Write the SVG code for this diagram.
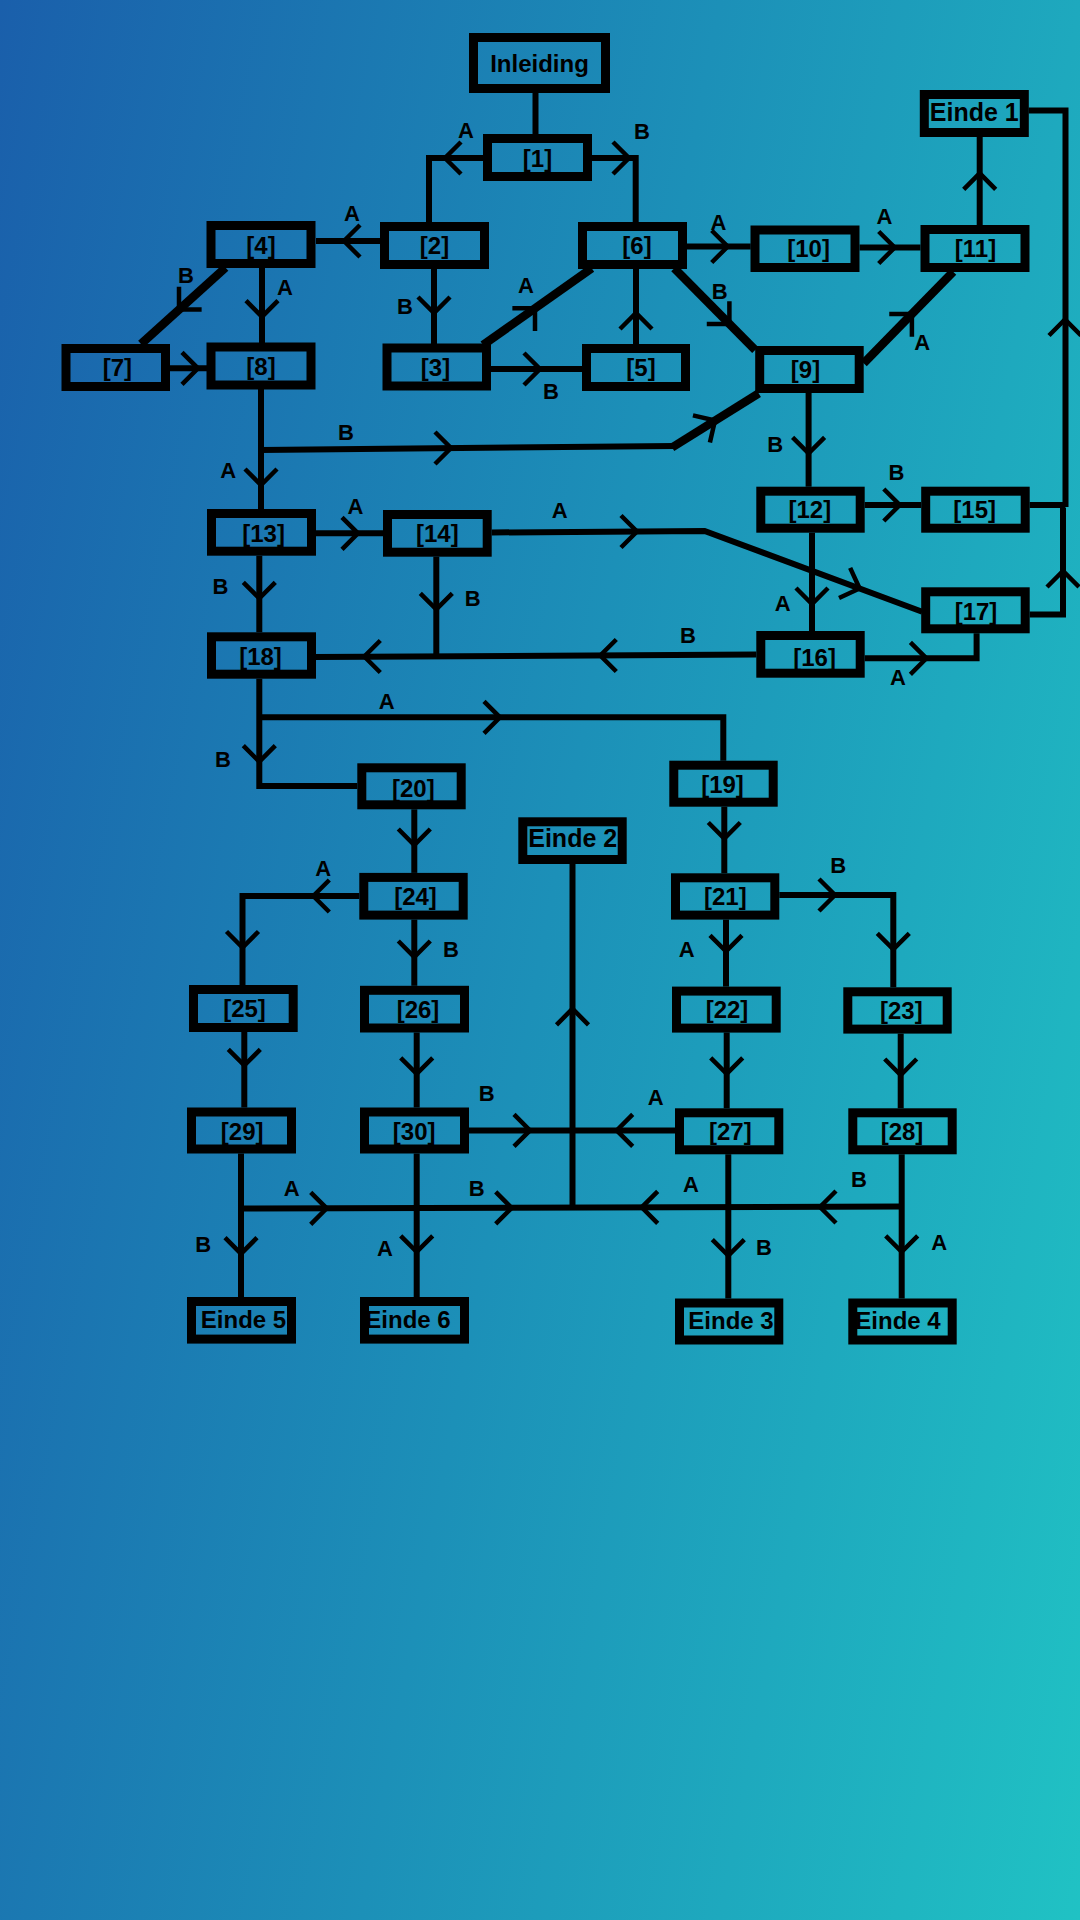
<svg xmlns="http://www.w3.org/2000/svg" xmlns:xlink="http://www.w3.org/1999/xlink" width="1080" height="1920" viewBox="0 0 1080 1920">
<defs>
<linearGradient id="bg" gradientUnits="userSpaceOnUse" x1="0" y1="0" x2="1392" y2="261">
<stop offset="0" stop-color="#1a5fab"/>
<stop offset="0.5" stop-color="#1c90b8"/>
<stop offset="1" stop-color="#20c2c4"/>
</linearGradient>
<path id="chv" d="M-16,-16 L0,0 L-16,16"/>
<style>
.box{fill:none;stroke:#000;stroke-width:9}
.nt{font-family:"Liberation Sans",Arial,sans-serif;font-weight:bold;font-size:24px;text-anchor:middle;fill:#000}
.ne{font-size:25px}
.ln{fill:none;stroke:#000;stroke-width:6;stroke-linejoin:miter}
.dg{stroke-width:8.5}
.ch{fill:none;stroke:#000;stroke-width:4.5}
.ab{font-family:"Liberation Sans",Arial,sans-serif;font-weight:bold;font-size:22px;text-anchor:middle;fill:#000}
</style>
</defs>
<rect x="0" y="0" width="1080" height="1920" fill="url(#bg)"/>

<g id="connectors">
<path class="ln" d="M535.5 93 V134"/>
<path class="ln" d="M483 158 H429 V222"/>
<path class="ln" d="M592 158 H635.7 V222"/>
<path class="ln" d="M380 241 H316"/>
<path class="ln" d="M434 268 V344"/>
<path class="ln" d="M262 268 V343"/>
<path class="ln dg" d="M225.5 267.7 L141 344"/>
<path class="ln" d="M170 368.3 H207"/>
<path class="ln dg" d="M483 345 L591.7 268.3"/>
<path class="ln" d="M491 369 H582"/>
<path class="ln" d="M636 344 V268"/>
<path class="ln" d="M687 246.5 H750.7"/>
<path class="ln" d="M859.6 247.5 H920.5"/>
<path class="ln" d="M979.7 225 V136.7"/>
<path class="ln dg" d="M674.3 268.3 L755.2 350"/>
<path class="ln dg" d="M863.7 363.3 L953.2 271.7"/>
<path class="ln" d="M261 389 V509"/>
<path class="ln" d="M261 450 L674.5 446"/>
<path class="ln dg" d="M672 447.5 L758.7 393.3"/>
<path class="ln" d="M316 533.3 H383"/>
<path class="ln" d="M259.3 555.7 V632.3"/>
<path class="ln" d="M436.3 556.7 V655"/>
<path class="ln" d="M756.3 654.5 L316 657"/>
<path class="ln" d="M491.7 532.5 L704.6 531 L922.2 611.7"/>
<path class="ln" d="M808.6 392.7 V486.7"/>
<path class="ln" d="M864.7 505 H921.2"/>
<path class="ln" d="M812 532.7 V631"/>
<path class="ln" d="M864.7 658.3 H976.6 V633.3"/>
<path class="ln" d="M1028.6 110.4 H1065.5 V507 M1029.7 505 H1065.5"/>
<path class="ln" d="M1029.7 614.6 H1063 V508"/>
<path class="ln" d="M259.3 678.7 V786 H357.3"/>
<path class="ln" d="M259.3 717.3 H723.3 V760.7"/>
<path class="ln" d="M414.3 809.3 V872.9"/>
<path class="ln" d="M359.3 896 H242.5 V985"/>
<path class="ln" d="M414.3 919.6 V985.8"/>
<path class="ln" d="M244.3 1032 V1107.5"/>
<path class="ln" d="M416.7 1032.5 V1107.5"/>
<path class="ln" d="M469 1130.4 H675"/>
<path class="ln" d="M572.5 864 V1208"/>
<path class="ln" d="M241 1208.5 L901.7 1206.5"/>
<path class="ln" d="M241 1153.4 V1297"/>
<path class="ln" d="M416.7 1153.4 V1297"/>
<path class="ln" d="M724.3 806.7 V873.3"/>
<path class="ln" d="M726 919.6 V986.6"/>
<path class="ln" d="M779.3 895 H893.3 V987.3"/>
<path class="ln" d="M726.7 1032.5 V1108.3"/>
<path class="ln" d="M900.7 1033.6 V1108.3"/>
<path class="ln" d="M728.3 1154.2 V1298.5"/>
<path class="ln" d="M901.7 1154.2 V1298.5"/>

<use class="ch" xlink:href="#chv" transform="translate(445,158) rotate(180)"/>
<use class="ch" xlink:href="#chv" transform="translate(629,158)"/>
<use class="ch" xlink:href="#chv" transform="translate(344,241) rotate(180)"/>
<use class="ch" xlink:href="#chv" transform="translate(434,313) rotate(90)"/>
<use class="ch" xlink:href="#chv" transform="translate(262,316.7) rotate(90)"/>
<use class="ch" xlink:href="#chv" transform="translate(179,309.5) rotate(135)"/>
<use class="ch" xlink:href="#chv" transform="translate(198,368.3)"/>
<use class="ch" xlink:href="#chv" transform="translate(535,308.3) rotate(-45)"/>
<use class="ch" xlink:href="#chv" transform="translate(540,369)"/>
<use class="ch" xlink:href="#chv" transform="translate(636,313) rotate(-90)"/>
<use class="ch" xlink:href="#chv" transform="translate(727.7,246.5)"/>
<use class="ch" xlink:href="#chv" transform="translate(894.7,247.5)"/>
<use class="ch" xlink:href="#chv" transform="translate(979.7,173.3) rotate(-90)"/>
<use class="ch" xlink:href="#chv" transform="translate(729.4,323.9) rotate(45)"/>
<use class="ch" xlink:href="#chv" transform="translate(911.9,314) rotate(-45)"/>
<use class="ch" xlink:href="#chv" transform="translate(261,485) rotate(90)"/>
<use class="ch" xlink:href="#chv" transform="translate(451,448)"/>
<use class="ch" xlink:href="#chv" transform="translate(715,420.5) rotate(-32)"/>
<use class="ch" xlink:href="#chv" transform="translate(358,533.3)"/>
<use class="ch" xlink:href="#chv" transform="translate(259.3,598.3) rotate(90)"/>
<use class="ch" xlink:href="#chv" transform="translate(436.3,609.3) rotate(90)"/>
<use class="ch" xlink:href="#chv" transform="translate(364.3,656.5) rotate(180)"/>
<use class="ch" xlink:href="#chv" transform="translate(600.3,655.5) rotate(180)"/>
<use class="ch" xlink:href="#chv" transform="translate(637,531.5)"/>
<use class="ch" xlink:href="#chv" transform="translate(859.6,588.5) rotate(20.35)"/>
<use class="ch" xlink:href="#chv" transform="translate(808.6,453.3) rotate(90)"/>
<use class="ch" xlink:href="#chv" transform="translate(899.8,505)"/>
<use class="ch" xlink:href="#chv" transform="translate(812,604) rotate(90)"/>
<use class="ch" xlink:href="#chv" transform="translate(926.4,658.3)"/>
<use class="ch" xlink:href="#chv" transform="translate(1065,319.5) rotate(-90)"/>
<use class="ch" xlink:href="#chv" transform="translate(1063,571) rotate(-90)"/>
<use class="ch" xlink:href="#chv" transform="translate(500,717.3)"/>
<use class="ch" xlink:href="#chv" transform="translate(259.3,761.7) rotate(90)"/>
<use class="ch" xlink:href="#chv" transform="translate(414.3,845) rotate(90)"/>
<use class="ch" xlink:href="#chv" transform="translate(313.3,896) rotate(180)"/>
<use class="ch" xlink:href="#chv" transform="translate(242.5,947.5) rotate(90)"/>
<use class="ch" xlink:href="#chv" transform="translate(414.3,957) rotate(90)"/>
<use class="ch" xlink:href="#chv" transform="translate(244.3,1065.4) rotate(90)"/>
<use class="ch" xlink:href="#chv" transform="translate(416.7,1073.8) rotate(90)"/>
<use class="ch" xlink:href="#chv" transform="translate(530,1130.4)"/>
<use class="ch" xlink:href="#chv" transform="translate(616.7,1130.4) rotate(180)"/>
<use class="ch" xlink:href="#chv" transform="translate(572.5,1008.8) rotate(-90)"/>
<use class="ch" xlink:href="#chv" transform="translate(326.7,1208.3)"/>
<use class="ch" xlink:href="#chv" transform="translate(241,1253.7) rotate(90)"/>
<use class="ch" xlink:href="#chv" transform="translate(416.7,1251.8) rotate(90)"/>
<use class="ch" xlink:href="#chv" transform="translate(511.7,1207.9)"/>
<use class="ch" xlink:href="#chv" transform="translate(724.3,838.5) rotate(90)"/>
<use class="ch" xlink:href="#chv" transform="translate(726,951.4) rotate(90)"/>
<use class="ch" xlink:href="#chv" transform="translate(835,895)"/>
<use class="ch" xlink:href="#chv" transform="translate(893.3,949.4) rotate(90)"/>
<use class="ch" xlink:href="#chv" transform="translate(726.7,1073.8) rotate(90)"/>
<use class="ch" xlink:href="#chv" transform="translate(900.7,1075) rotate(90)"/>
<use class="ch" xlink:href="#chv" transform="translate(728.3,1255.6) rotate(90)"/>
<use class="ch" xlink:href="#chv" transform="translate(641.7,1207.3) rotate(180)"/>
<use class="ch" xlink:href="#chv" transform="translate(901.7,1251.8) rotate(90)"/>
<use class="ch" xlink:href="#chv" transform="translate(820,1207) rotate(180)"/>

<text class="ab" x="466" y="138">A</text>
<text class="ab" x="642" y="139">B</text>
<text class="ab" x="352" y="221">A</text>
<text class="ab" x="405" y="313.5">B</text>
<text class="ab" x="285" y="294.5">A</text>
<text class="ab" x="186" y="283">B</text>
<text class="ab" x="526" y="293">A</text>
<text class="ab" x="551" y="399">B</text>
<text class="ab" x="718.4" y="229.5">A</text>
<text class="ab" x="884.4" y="224">A</text>
<text class="ab" x="719.8" y="298.5">B</text>
<text class="ab" x="922.2" y="349.5">A</text>
<text class="ab" x="228.3" y="478">A</text>
<text class="ab" x="346" y="439.5">B</text>
<text class="ab" x="355.4" y="514">A</text>
<text class="ab" x="220.4" y="593.5">B</text>
<text class="ab" x="472.8" y="605.5">B</text>
<text class="ab" x="688" y="642.5">B</text>
<text class="ab" x="559.6" y="517.5">A</text>
<text class="ab" x="775.2" y="451.5">B</text>
<text class="ab" x="896.4" y="479.5">B</text>
<text class="ab" x="782.8" y="610.5">A</text>
<text class="ab" x="898" y="684.5">A</text>
<text class="ab" x="386.7" y="709">A</text>
<text class="ab" x="223" y="766.5">B</text>
<text class="ab" x="323.3" y="876">A</text>
<text class="ab" x="451" y="956.5">B</text>
<text class="ab" x="486.7" y="1101">B</text>
<text class="ab" x="655.7" y="1104.5">A</text>
<text class="ab" x="291.7" y="1196">A</text>
<text class="ab" x="203.3" y="1252">B</text>
<text class="ab" x="385" y="1256">A</text>
<text class="ab" x="476.7" y="1196">B</text>
<text class="ab" x="686.7" y="956.5">A</text>
<text class="ab" x="838.3" y="873">B</text>
<text class="ab" x="764" y="1254.5">B</text>
<text class="ab" x="691" y="1191.5">A</text>
<text class="ab" x="939.3" y="1250">A</text>
<text class="ab" x="859" y="1187">B</text>
</g>

<g id="n-inleiding"><text class="nt" x="539.5" y="72" font-size="25.5">Inleiding</text><rect class="box" x="473.5" y="37.5" width="132" height="51"/></g>
<g id="n1"><text class="nt" x="537.5" y="167">[1]</text><rect class="box" x="487.5" y="138.5" width="100" height="38"/></g>
<g id="n2"><text class="nt" x="434.5" y="254">[2]</text><rect class="box" x="384.5" y="226.5" width="100" height="38"/></g>
<g id="n3"><text class="nt" x="435.5" y="376">[3]</text><rect class="box" x="387" y="348" width="99.5" height="38"/></g>
<g id="n4"><text class="nt" x="261" y="253.5">[4]</text><rect class="box" x="211" y="225.5" width="100" height="38"/></g>
<g id="n5"><text class="nt" x="641" y="376">[5]</text><rect class="box" x="586.5" y="348.5" width="99" height="38"/></g>
<g id="n6"><text class="nt" x="637" y="254">[6]</text><rect class="box" x="582.5" y="226.5" width="100" height="38"/></g>
<g id="n7"><text class="nt" x="117.4" y="376">[7]</text><rect class="box" x="66" y="348.5" width="99.5" height="38"/></g>
<g id="n8"><text class="nt" x="261" y="375">[8]</text><rect class="box" x="211" y="347" width="100" height="38"/></g>
<g id="n9"><text class="nt" x="805.5" y="378">[9]</text><rect class="box" x="759.7" y="350.5" width="99.5" height="38"/></g>
<g id="n10"><text class="nt" x="808.6" y="257">[10]</text><rect class="box" x="755" y="230" width="100" height="37.5"/></g>
<g id="n11"><text class="nt" x="975.5" y="257">[11]</text><rect class="box" x="925" y="229.5" width="100" height="38"/></g>
<g id="n-einde1"><text class="nt ne" x="974.3" y="121">Einde 1</text><rect class="box" x="924.3" y="94.5" width="100" height="38"/></g>
<g id="n12"><text class="nt" x="809.8" y="518">[12]</text><rect class="box" x="760.8" y="491.2" width="99.4" height="37"/></g>
<g id="n13"><text class="nt" x="263.6" y="541.7">[13]</text><rect class="box" x="211.5" y="513.5" width="100" height="37.7"/></g>
<g id="n14"><text class="nt" x="437.3" y="542">[14]</text><rect class="box" x="387.5" y="514.5" width="99.7" height="37.7"/></g>
<g id="n15"><text class="nt" x="974.7" y="518">[15]</text><rect class="box" x="925.7" y="491.2" width="99.5" height="37"/></g>
<g id="n16"><text class="nt" x="814.6" y="665.7">[16]</text><rect class="box" x="760.8" y="635.5" width="99.4" height="37.7"/></g>
<g id="n17"><text class="nt" x="976" y="620">[17]</text><rect class="box" x="925.7" y="591.8" width="99.5" height="37"/></g>
<g id="n18"><text class="nt" x="260.5" y="665">[18]</text><rect class="box" x="211.5" y="636.8" width="100" height="37.4"/></g>
<g id="n19"><text class="nt" x="722.5" y="793.3">[19]</text><rect class="box" x="673.8" y="765.2" width="99.4" height="37"/></g>
<g id="n20"><text class="nt" x="413.3" y="796.7">[20]</text><rect class="box" x="361.8" y="767.8" width="99.4" height="37"/></g>
<g id="n-einde2"><text class="nt ne" x="572.7" y="846.7">Einde 2</text><rect class="box" x="522.8" y="821.8" width="99.4" height="37.7"/></g>
<g id="n21"><text class="nt" x="725.3" y="905">[21]</text><rect class="box" x="675.5" y="877.8" width="99.3" height="37.3"/></g>
<g id="n22"><text class="nt" x="727" y="1018">[22]</text><rect class="box" x="676.5" y="991.1" width="99.7" height="37"/></g>
<g id="n23"><text class="nt" x="901.3" y="1019">[23]</text><rect class="box" x="847.8" y="991.8" width="99.4" height="37.3"/></g>
<g id="n24"><text class="nt" x="415.5" y="905.4">[24]</text><rect class="box" x="363.8" y="877.4" width="99.4" height="37.7"/></g>
<g id="n25"><text class="nt" x="244.5" y="1016.5">[25]</text><rect class="box" x="193.5" y="989.5" width="99.7" height="38"/></g>
<g id="n26"><text class="nt" x="418" y="1018">[26]</text><rect class="box" x="364.5" y="990.3" width="100" height="37.7"/></g>
<g id="n27"><text class="nt" x="730.3" y="1140">[27]</text><rect class="box" x="679.5" y="1112.8" width="99.3" height="37"/></g>
<g id="n28"><text class="nt" x="902" y="1140">[28]</text><rect class="box" x="852.8" y="1112.8" width="99.4" height="37"/></g>
<g id="n29"><text class="nt" x="242.2" y="1139.5">[29]</text><rect class="box" x="191.5" y="1112" width="100" height="37"/></g>
<g id="n30"><text class="nt" x="414.2" y="1139.5">[30]</text><rect class="box" x="364.5" y="1112" width="100" height="37"/></g>
<g id="n-einde3"><text class="nt" x="731" y="1329" font-size="26">Einde 3</text><rect class="box" x="679.5" y="1303" width="99.3" height="37"/></g>
<g id="n-einde4"><text class="nt" x="898" y="1329" font-size="26">Einde 4</text><rect class="box" x="852.8" y="1303" width="99.4" height="37"/></g>
<g id="n-einde5"><text class="nt" x="243.5" y="1328.3" font-size="26">Einde 5</text><rect class="box" x="191.5" y="1301.5" width="100" height="37.6"/></g>
<g id="n-einde6"><text class="nt" x="408" y="1328.3" font-size="26">Einde 6</text><rect class="box" x="364.5" y="1301.5" width="100" height="37.6"/></g>
</svg>
